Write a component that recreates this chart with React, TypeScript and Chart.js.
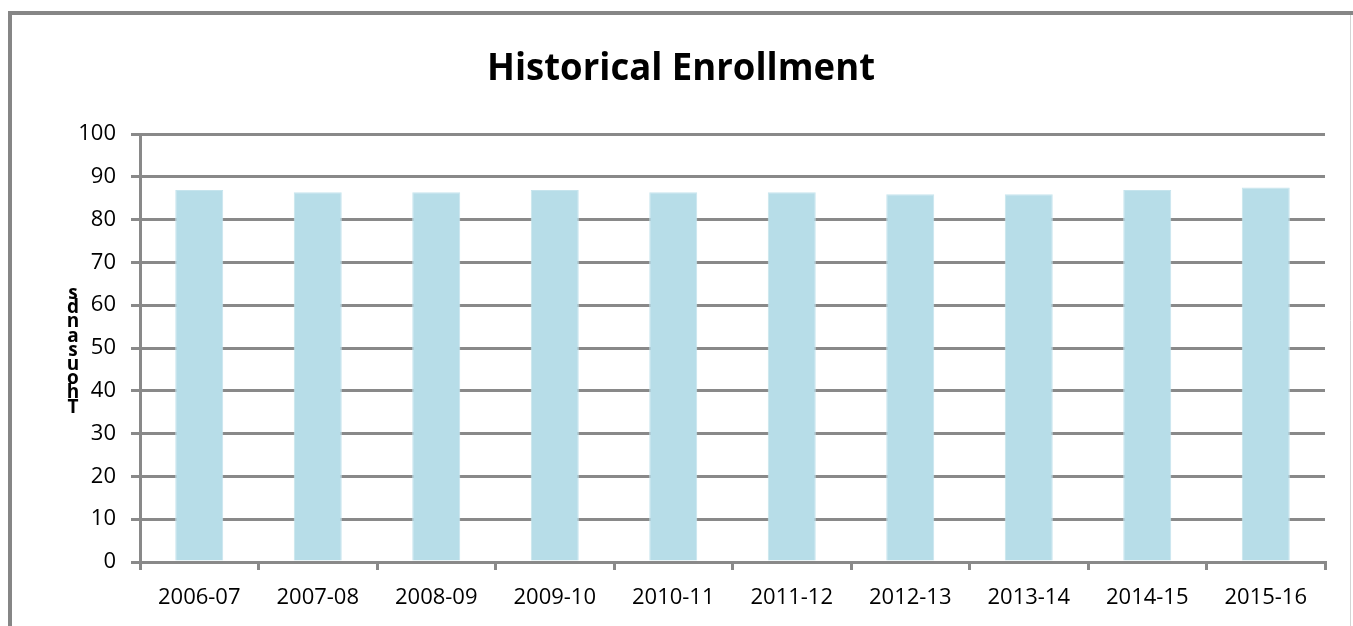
import React, { useEffect, useRef } from "react";
import { Chart, registerables } from "chart.js";

Chart.register(...registerables);

const categories = ["2006-07", "2007-08", "2008-09", "2009-10", "2010-11", "2011-12", "2012-13", "2013-14", "2014-15", "2015-16"];
const enrollment = [86.9, 86.4, 86.4, 86.9, 86.4, 86.4, 85.9, 85.9, 86.9, 87.5];
const yTicks = [0, 10, 20, 30, 40, 50, 60, 70, 80, 90, 100];
const titleText = "Historical Enrollment";
const yTitle = "Thousands";

const GRAY = "#898989";
const FONT = "'Open Sans'";

const decorPlugin = {
  id: "decor",
  afterDraw(chart: any) {
    const ctx = chart.ctx as CanvasRenderingContext2D;
    ctx.save();
    // outer frame
    ctx.strokeStyle = "#868686";
    ctx.lineWidth = 4;
    ctx.beginPath();
    ctx.moveTo(10, 626);
    ctx.lineTo(10, 13);
    ctx.lineTo(1353, 13);
    ctx.stroke();
    ctx.strokeStyle = "#d4d4d4";
    ctx.lineWidth = 1;
    ctx.beginPath();
    ctx.moveTo(1350.5, 15);
    ctx.lineTo(1350.5, 626);
    ctx.stroke();
    // title
    ctx.fillStyle = "#000";
    ctx.font = `bold 38px ${FONT}`;
    ctx.textAlign = "center";
    ctx.textBaseline = "alphabetic";
    const w = ctx.measureText(titleText).width;
    const target = 388;
    ctx.save();
    ctx.translate(681, 80);
    ctx.scale(target / w, 1);
    ctx.fillText(titleText, 0, 0);
    ctx.restore();
    // stacked y title (glyphs stacked, reading bottom to top)
    ctx.font = `bold 19px ${FONT}`;
    const letters = yTitle.split("").reverse();
    letters.forEach((ch, i) => {
      ctx.fillText(ch, 73, 299 + i * 14.2);
    });
    ctx.restore();
  },
};

export default function App() {
  const ref = useRef<HTMLCanvasElement | null>(null);
  useEffect(() => {
    document.body.style.margin = "0";
    const canvas = ref.current!;
    const chart = new Chart(canvas, {
      type: "bar",
      data: {
        labels: categories,
        datasets: [
          {
            data: enrollment,
            backgroundColor: "#b7dde8",
            borderColor: "#c6e4ed",
            borderWidth: 1,
            barPercentage: 0.405,
            categoryPercentage: 1,
          },
        ],
      },
      options: {
        responsive: false,
        animation: false,
        layout: { padding: { left: 0, top: 134, right: 28, bottom: 0 } },
        plugins: {
          legend: { display: false },
          tooltip: { enabled: false },
          title: { display: false },
        },
        scales: {
          x: {
            grid: {
              offset: true,
              drawOnChartArea: false,
              drawTicks: true,
              tickLength: 8,
              color: GRAY,
              lineWidth: 3,
            },
            border: { color: GRAY, width: 3 },
            ticks: {
              color: "#000",
              font: { family: FONT, size: 22 },
              padding: 15,
              maxRotation: 0,
              autoSkip: false,
            },
            afterFit(scale: any) {
              scale.height = 64;
            },
          },
          y: {
            min: 0,
            max: 100,
            afterBuildTicks(scale: any) {
              scale.ticks = yTicks.map((v) => ({ value: v }));
            },
            grid: {
              color: GRAY,
              lineWidth: 3,
              tickLength: 9,
              drawTicks: true,
            },
            border: { color: GRAY, width: 3 },
            ticks: {
              color: "#000",
              font: { family: FONT, size: 22 },
              padding: 15,
            },
            afterFit(scale: any) {
              scale.width = 140;
            },
          },
        },
      },
      plugins: [decorPlugin],
    });
    return () => chart.destroy();
  }, []);
  return <canvas ref={ref} width={1353} height={626} style={{ display: "block" }} />;
}
